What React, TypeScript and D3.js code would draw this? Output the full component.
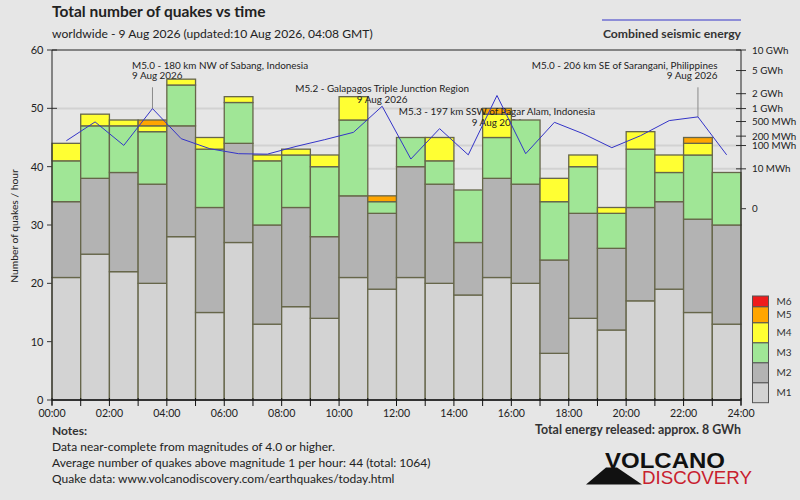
import React from 'react';
import * as d3 from 'd3';

// ---------- data ----------
const hours = [0, 1, 2, 3, 4, 5, 6, 7, 8, 9, 10, 11, 12, 13, 14, 15, 16, 17, 18, 19, 20, 21, 22, 23];
const countM1 = [21, 25, 22, 20, 28, 15, 27, 13, 16, 14, 21, 19, 21, 20, 18, 21, 20, 8, 14, 12, 17, 19, 15, 13];
const countM2 = [13, 13, 17, 17, 19, 18, 17, 17, 17, 14, 14, 13, 19, 17, 9, 17, 17, 16, 18, 14, 16, 15, 16, 17];
const countM3 = [7, 9, 8, 9, 7, 10, 7, 11, 9, 12, 13, 2, 5, 4, 9, 7, 11, 10, 8, 6, 10, 5, 11, 9];
const countM4 = [3, 2, 1, 1, 1, 2, 1, 1, 1, 2, 4, 0, 0, 4, 0, 4, 0, 4, 2, 1, 3, 3, 2, 0];
const countM5 = [0, 0, 0, 1, 0, 0, 0, 0, 0, 0, 0, 1, 0, 0, 0, 1, 0, 0, 0, 0, 0, 0, 1, 0];
const countM6 = [0, 0, 0, 0, 0, 0, 0, 0, 0, 0, 0, 0, 0, 0, 0, 0, 0, 0, 0, 0, 0, 0, 0, 0];
// combined seismic energy per hour, MWh
const energyMWh = [144, 489, 101, 1001, 167, 77, 50, 48, 93, 156, 258, 1121, 30, 327, 45, 1847, 50, 478, 236, 84, 206, 527, 648, 45];

const magClasses = ['M1', 'M2', 'M3', 'M4', 'M5', 'M6'];
const magColors = ['#d3d3d3', '#b3b3b3', '#a0e696', '#ffff33', '#ffa500', '#ee1c1c'];

const xTickLabels = ['00:00', '02:00', '04:00', '06:00', '08:00', '10:00', '12:00', '14:00', '16:00', '18:00', '20:00', '22:00', '24:00'];
const yTicks = [0, 10, 20, 30, 40, 50, 60];
const energyTicks = [10000, 5000, 2000, 1000, 500, 200, 100, 10, 0];
const energyTickLabels = ['10 GWh', '5 GWh', '2 GWh', '1 GWh', '500 MWh', '200 MWh', '100 MWh', '10 MWh', '0'];
const energyGridValues = [1000, 100, 10];

const annotations = [
  { hour: 3, title: 'M5.0 - 180 km NW of Sabang, Indonesia', date: '9 Aug 2026' },
  { hour: 11, title: 'M5.2 - Galapagos Triple Junction Region', date: '9 Aug 2026' },
  { hour: 15, title: 'M5.3 - 197 km SSW of Pagar Alam, Indonesia', date: '9 Aug 2026' },
  { hour: 22, title: 'M5.0 - 206 km SE of Sarangani, Philippines', date: '9 Aug 2026' },
];

const titleText = 'Total number of quakes vs time';
const subtitleText = 'worldwide - 9 Aug 2026 (updated:10 Aug 2026, 04:08 GMT)';
const energyLegendText = 'Combined seismic energy';
const yAxisTitle = 'Number of quakes / hour';
const notesTitle = 'Notes:';
const notesLines = [
  'Data near-complete from magnitudes of 4.0 or higher.',
  'Average number of quakes above magnitude 1 per hour: 44 (total: 1064)',
  'Quake data: www.volcanodiscovery.com/earthquakes/today.html',
];
const totalEnergyText = 'Total energy released: approx. 8 GWh';

// ---------- layout ----------
const W = 800;
const H = 500;
const L = 52;
const R = 741;
const T = 50;
const B = 400;
const FONT = 'Lato, Carlito, "Open Sans", sans-serif';
const BG = '#e6e6e6';
const TXT = '#222';
const BAR_STROKE = '#66664a';
const LINE_BLUE = '#3434c8';

// annotation layout: anchor and text row
const annLayout = [
  { anchor: 'start', dx: -20.5, row: 0 },
  { anchor: 'middle', dx: 0, row: 1 },
  { anchor: 'middle', dx: 0, row: 2 },
  { anchor: 'end', dx: 19.5, row: 0 },
];

// legend box geometry [top, bottom]
const legendBoxes = [
  [382.7, 402.7],
  [362.7, 382.7],
  [342.7, 362.7],
  [322.7, 342.7],
  [306.7, 322.7],
  [296, 306.7],
];

export default function App() {
  const x = d3.scaleLinear().domain([0, 24]).range([L, R]);
  const y = d3.scaleLinear().domain([0, 60]).range([B, T]);
  const e = d3.scalePow().exponent(0.2).domain([0, 10000]).range([208.7, T]);

  const rows = hours.map((h, i) => ({
    hour: h,
    M1: countM1[i],
    M2: countM2[i],
    M3: countM3[i],
    M4: countM4[i],
    M5: countM5[i],
    M6: countM6[i],
  }));
  const stacked = d3.stack<any>().keys(magClasses)(rows);

  const lineGen = d3
    .line<number>()
    .x((_, i) => x(hours[i] + 0.5))
    .y((d) => e(d));

  const elements: React.ReactNode[] = [];
  hours.forEach((h, i) => {
    const x0 = x(h);
    const x1 = x(h + 1);
    const segs = stacked
      .map((layer, k) => ({ k, y0: layer[i][0], y1: layer[i][1] }))
      .filter((s) => s.y1 > s.y0);
    elements.push(
      <g key={'bar' + h}>
        {segs.map((s) => (
          <rect
            key={s.k}
            x={x0}
            width={x1 - x0}
            y={y(s.y1)}
            height={y(s.y0) - y(s.y1)}
            fill={magColors[s.k]}
            stroke={BAR_STROKE}
            strokeWidth={1.3}
          />
        ))}
      </g>
    );
    annotations.forEach((a, ai) => {
      if (a.hour !== h) return;
      const lay = annLayout[ai];
      const cx = x(h + 0.5);
      const tx = cx + lay.dx;
      const b1 = 68.5 + lay.row * 23.3;
      const b2 = b1 + 10.8;
      const py = e(energyMWh[i]);
      elements.push(
        <g key={'ann' + ai} fontSize={9.9} fill={TXT} fontFamily={FONT}>
          {py > b2 + 8 && <line x1={cx} x2={cx} y1={b2 + 8} y2={py} stroke="#8a8a8a" strokeWidth={1} />}
          <text x={tx} y={b1} textAnchor={lay.anchor as any}>
            {a.title}
          </text>
          <text x={tx} y={b2} textAnchor={lay.anchor as any}>
            {a.date}
          </text>
        </g>
      );
    });
  });

  return (
    <svg
      width={W}
      height={H}
      viewBox={`0 0 ${W} ${H}`}
      style={{ position: 'absolute', left: 0, top: 0, display: 'block' }}
      fontFamily={FONT}
    >
      <rect x={0} y={0} width={W} height={H} fill={BG} />

      {/* titles */}
      <text x={52} y={17} fontSize={15.5} fontWeight="bold" fill={TXT}>
        {titleText}
      </text>
      <text x={52} y={37.5} fontSize={12.1} fill={TXT}>
        {subtitleText}
      </text>
      <line x1={602} x2={R} y1={20} y2={20} stroke={LINE_BLUE} strokeWidth={1} />
      <text x={R} y={37.5} fontSize={12.2} fontWeight="bold" fill="#333" textAnchor="end">
        {energyLegendText}
      </text>

      {/* gridlines from energy axis */}
      {energyGridValues.map((v) => (
        <line key={'g' + v} x1={L} x2={R} y1={e(v)} y2={e(v)} stroke="#d2d2d2" strokeWidth={2} />
      ))}

      {/* tick marks (behind bars) */}
      {yTicks.map((v) => (
        <line key={'yt' + v} x1={47} x2={57} y1={y(v)} y2={y(v)} stroke="#333" strokeWidth={1} />
      ))}
      {energyTicks.map((v) => (
        <line key={'et' + v} x1={736} x2={746} y1={e(v)} y2={e(v)} stroke="#333" strokeWidth={1} />
      ))}

      {elements}

      {/* energy line */}
      <path d={lineGen(energyMWh) || ''} fill="none" stroke={LINE_BLUE} strokeWidth={1} />

      {/* frame & axes */}
      <line x1={L} x2={R} y1={T} y2={T} stroke="#222" strokeWidth={1} />
      <line x1={L} x2={L} y1={T} y2={B + 5} stroke="#222" strokeWidth={1} />
      <line x1={R} x2={R} y1={T} y2={B + 5} stroke="#222" strokeWidth={1} />
      <line x1={L} x2={R} y1={B} y2={B} stroke="#333" strokeWidth={2} />
      {d3.range(25).map((k) => (
        <line key={'xt' + k} x1={x(k)} x2={x(k)} y1={B - 2} y2={B + 6} stroke="#111" strokeWidth={1} />
      ))}

      {/* y labels */}
      {yTicks.map((v) => (
        <text key={'yl' + v} x={43.5} y={y(v) + 4} fontSize={11} fill={TXT} textAnchor="end">
          {v}
        </text>
      ))}
      <text transform={`translate(17.5,226) rotate(-90)`} fontSize={10.3} fill={TXT} textAnchor="middle">
        {yAxisTitle}
      </text>

      {/* energy labels */}
      {energyTicks.map((v, k) => (
        <text key={'el' + v} x={752} y={e(v) + 3.6} fontSize={9.8} fill={TXT}>
          {energyTickLabels[k]}
        </text>
      ))}

      {/* x labels */}
      {xTickLabels.map((lab, k) => (
        <text key={'xl' + k} x={x(k * 2)} y={417} fontSize={10.6} fill={TXT} textAnchor="middle">
          {lab}
        </text>
      ))}

      {/* magnitude legend */}
      {magClasses.map((m, k) => {
        const [t, b] = legendBoxes[k];
        return (
          <g key={'lg' + m}>
            <rect x={752.5} y={t} width={16} height={b - t} fill={magColors[k]} stroke="#555" strokeWidth={1} />
            <text x={776.5} y={(t + b) / 2 + 3.6} fontSize={10} fill="#333">
              {m}
            </text>
          </g>
        );
      })}

      {/* notes */}
      <text x={52} y={435} fontSize={12} fontWeight="bold" fill="#333">
        {notesTitle}
      </text>
      {notesLines.map((s, k) => (
        <text key={'n' + k} x={52} y={451 + k * 16} fontSize={12} fill={TXT}>
          {s}
        </text>
      ))}
      <text x={R} y={434} fontSize={12.4} fontWeight="bold" fill="#333" textAnchor="end">
        {totalEnergyText}
      </text>

      {/* logo */}
      <polygon points="586,484.5 642,484.5 617,467.5 606,467.5" fill="#111" />
      <text
        x={605}
        y={468}
        fontSize={22}
        fontWeight="bold"
        fill="#111"
        fontFamily="'Liberation Sans', Arial, sans-serif"
        textLength={120}
        lengthAdjust="spacingAndGlyphs"
      >
        VOLCANO
      </text>
      <text
        x={642}
        y={484.4}
        fontSize={19}
        fill="#c8202e"
        fontFamily="'Liberation Sans', Arial, sans-serif"
        textLength={110}
        lengthAdjust="spacingAndGlyphs"
      >
        DISCOVERY
      </text>
    </svg>
  );
}
